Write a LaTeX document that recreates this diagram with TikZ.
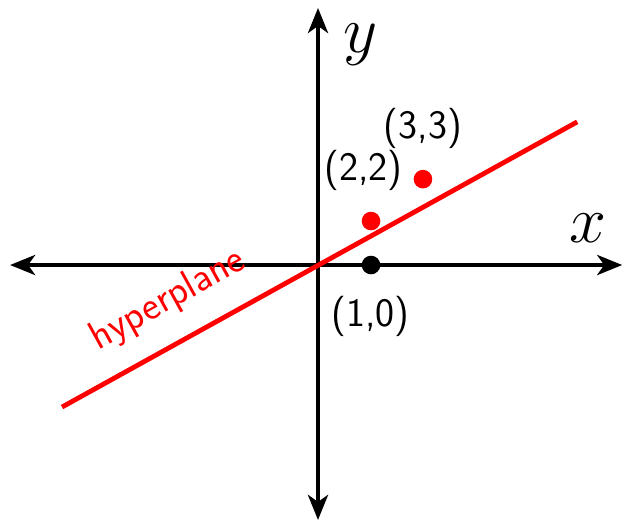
\documentclass[tikz,border=0pt]{standalone}
\usepackage{amsmath}
\usepackage{graphicx}
\usepackage{xcolor}
\usetikzlibrary{arrows.meta,positioning}
\definecolor{planered}{HTML}{FF0000}
\newcommand{\axname}[1]{\scalebox{1.6}{$#1$}}

\begin{document}
\begin{tikzpicture}[x=26.5pt,y=26.5pt,
  axis/.style={line width=2.2pt,{Stealth[length=12.5pt,width=10pt,inset=3.5pt]}-{Stealth[length=12.5pt,width=10pt,inset=3.5pt]}},
  plane/.style={line width=2.4pt,color=planered},
  dot/.style={circle,inner sep=0pt,minimum size=8.5mm/2.6},
  lbl/.style={font=\fontsize{20.2}{24}\selectfont\sffamily},
  axlbl/.style={font=\huge}]
  \useasboundingbox (-6.0,-4.887) rectangle (5.83,5.0);
  % axes
  \coordinate (o) at (0,0);
  \coordinate (xl) at (-5.81,0); \coordinate (xr) at (5.74,0);
  \coordinate (yb) at (0,-4.81); \coordinate (yt) at (0,4.85);
  \draw[axis] (xl)--(xr);
  \draw[axis] (yb)--(yt);
  \node[axlbl] (xlab) at (5.09,0.70) {\axname{x}};
  \node[axlbl] (ylab) at (0.80,4.15) {\axname{y}};
  % hyperplane
  \coordinate (hl) at (-4.83,-2.68); \coordinate (hr) at (4.89,2.70);
  \draw[plane] (hl)--(hr);
  \node[lbl,text=planered,rotate=29] (hlab) at (-2.83,-0.66) {hyperplane};
  % points
  \node[dot,fill=black] (p10) at (1,0) {};
  \node[dot,fill=planered] (p22) at (1,0.83) {};
  \node[dot,fill=planered] (p33) at (1.98,1.62) {};
  \node[lbl] (l10) at (0.99,-0.97) {(1,0)};
  \node[lbl] (l22) at (0.86,1.79) {(2,2)};
  \node[lbl] (l33) at (1.98,2.57) {(3,3)};
\end{tikzpicture}
\end{document}
